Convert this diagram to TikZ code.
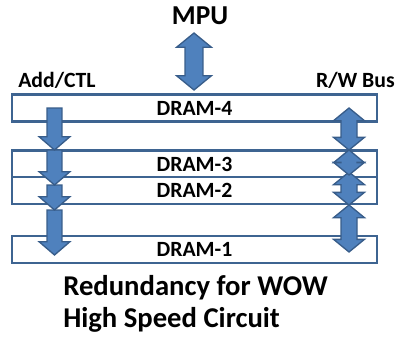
\documentclass[tikz,border=0pt]{standalone}
\usepackage{fontspec}
\setmainfont{Carlito}
\usetikzlibrary{calc}
\definecolor{arrowfill}{RGB}{79,129,189}
\definecolor{arrowedge}{RGB}{56,93,138}
\definecolor{boxedge}{RGB}{62,100,145}
\tikzset{
  blockarrow/.style={fill=arrowfill,draw=arrowedge,line width=1pt,line join=miter},
  drambox/.style={draw=boxedge,line width=1.6pt,fill=white,minimum width=273.75pt,minimum height=20.25pt,inner sep=0pt,font=\fontsize{16.3}{19}\selectfont\bfseries},
  tag/.style={inner sep=0pt,font=\fontsize{16.3}{19}\selectfont\bfseries},
  caption/.style={inner sep=0pt,anchor=base west,font=\fontsize{21.5}{26}\selectfont\bfseries}
}
% 下向きブロック矢印: [大きさ]{根元}{先端}
\newcommand{\downblock}[3][1]{%
  \path[blockarrow] let \p1=(#2),\p2=(#3) in
    (\x1-#1*5.6pt,\y1)--(\x1+#1*5.6pt,\y1)--(\x1+#1*5.6pt,\y2+#1*10pt)--(\x1+#1*11.6pt,\y2+#1*10pt)
    --(\x2,\y2)--(\x1-#1*11.6pt,\y2+#1*10pt)--(\x1-#1*5.6pt,\y2+#1*10pt)--cycle;}
% 両向きブロック矢印: [大きさ]{上端}{下端}
\newcommand{\twoblock}[3][1]{%
  \path[blockarrow] let \p1=(#2),\p2=(#3) in
    (\x1,\y1)--(\x1+#1*11.6pt,\y1-#1*9.5pt)--(\x1+#1*6pt,\y1-#1*9.5pt)--(\x1+#1*6pt,\y2+#1*9.5pt)
    --(\x1+#1*11.6pt,\y2+#1*9.5pt)--(\x2,\y2)--(\x1-#1*11.6pt,\y2+#1*9.5pt)--(\x1-#1*6pt,\y2+#1*9.5pt)
    --(\x1-#1*6pt,\y1-#1*9.5pt)--(\x1-#1*11.6pt,\y1-#1*9.5pt)--cycle;}
\begin{document}
\begin{tikzpicture}[x=0.75pt,y=-0.75pt]
  \useasboundingbox (0,0) rectangle (398,339);
  %ラベル
  \node[tag,anchor=base,font=\fontsize{20.5}{24}\selectfont\bfseries](mpu)at(200,24){MPU};
  \node[tag,anchor=base west](ctl)at(18,87){Add/CTL};
  \node[tag,anchor=base east](bus)at(395,87){R/W Bus};
  %DRAM
  \node[drambox](dram4)at(194.5,108){DRAM-4};
  \node[drambox](dram3)at(194.5,164){DRAM-3};
  \node[drambox](dram2)at(194.5,190.5){DRAM-2};
  \node[drambox](dram1)at(194.5,249.5){DRAM-1};
  %矢印の端
  \coordinate(mpuT)at(194,33);
  \coordinate(mpuB)at(194,90);
  \coordinate(ctl0)at(54.5,108);
  \coordinate(ctl1)at(54.5,150);
  \coordinate(ctl2)at(54.5,185);
  \coordinate(ctl3)at(54.5,210);
  \coordinate(ctl4)at(54.5,255);
  \coordinate(bus0)at(349,108);
  \coordinate(bus1)at(349,150);
  \coordinate(bus2)at(349,175);
  \coordinate(bus3)at(349,172);
  \coordinate(bus4)at(349,205);
  \coordinate(bus5)at(349,252);
  %MPU
  \twoblock[1.12]{mpuT}{mpuB}
  %Add/CTL
  \downblock{ctl3}{ctl4}
  \downblock{ctl2}{ctl3}
  \downblock{ctl1}{ctl2}
  \downblock{ctl0}{ctl1}
  %R/W Bus
  \twoblock{bus4}{bus5}
  \twoblock{bus3}{bus4}
  \twoblock{bus1}{bus2}
  \twoblock{bus0}{bus1}
  %説明
  \node[caption](red)at(63,295){Redundancy for WOW};
  \node[caption](hsc)at(63,327){High Speed Circuit};
\end{tikzpicture}
\end{document}
